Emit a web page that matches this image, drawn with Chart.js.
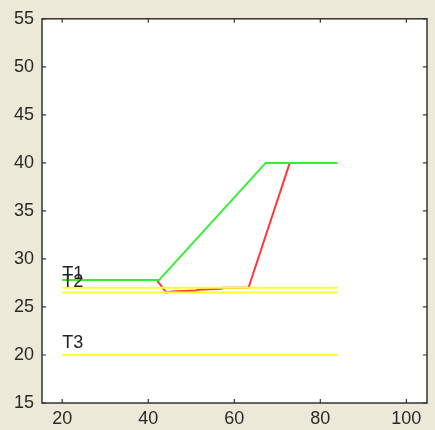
<!DOCTYPE html>
<html>
<head>
<meta charset="utf-8">
<script src="https://cdn.jsdelivr.net/npm/chart.js@4/dist/chart.umd.min.js"></script>
<style>
html,body{margin:0;padding:0;background:#ECE9D8;}
#wrap{position:absolute;left:0;top:0;width:435px;height:430px;}
</style>
</head>
<body>
<div id="wrap"><canvas id="c" width="435" height="430"></canvas></div>
<script>
// ----- data -----
const xTickValues = [20, 40, 60, 80, 100];
const yTickValues = [15, 20, 25, 30, 35, 40, 45, 50, 55];

const greenX = [20, 42.5, 67.3, 84];
const greenY = [27.8, 27.8, 40, 40];

const redX = [42, 44.2, 45.5, 51.2, 51.4, 57.0, 57.3, 63.3, 72.9];
const redY = [27.8, 26.5, 26.6, 26.7, 26.8, 26.9, 27.0, 27.0, 40];

const yellowX = [20, 84];
const yellow1Y = [27.0, 27.0];
const yellow2Y = [26.5, 26.5];
const yellow3Y = [20, 20];

const labelTexts = ['T1', 'T2', 'T3'];
const labelX = [20, 20, 20];
const labelY = [28.4, 27.6, 21.2];

function pts(xs, ys){ return xs.map((x,i)=>({x:x, y:ys[i]})); }

const FAMILY = '"Liberation Sans", Arial, sans-serif';
const FONT = '18px ' + FAMILY;

const framePlugin = {
  id: 'frame',
  beforeDraw(chart){
    const {ctx, chartArea:a} = chart;
    ctx.save();
    ctx.fillStyle = '#ECE9D8';
    ctx.fillRect(0,0,chart.width,chart.height);
    ctx.fillStyle = '#ffffff';
    ctx.fillRect(a.left, a.top, a.right-a.left, a.bottom-a.top);
    ctx.restore();
  },
  afterDatasetsDraw(chart){
    const {ctx, chartArea:a, scales} = chart;
    ctx.save();
    // labels
    ctx.font = FONT;
    ctx.fillStyle = '#222';
    ctx.textAlign = 'left';
    ctx.textBaseline = 'middle';
    labelTexts.forEach((t,i)=>{
      ctx.fillText(t, scales.x.getPixelForValue(labelX[i]), scales.y.getPixelForValue(labelY[i]));
    });
    // box
    ctx.strokeStyle = '#333';
    ctx.lineWidth = 1.5;
    ctx.strokeRect(a.left, a.top, a.right-a.left, a.bottom-a.top);
    // inward ticks
    ctx.lineWidth = 1.2;
    const L = 4;
    scales.x.ticks.forEach(t=>{
      const px = scales.x.getPixelForValue(t.value);
      ctx.beginPath();
      ctx.moveTo(px, a.bottom); ctx.lineTo(px, a.bottom-L);
      ctx.moveTo(px, a.top); ctx.lineTo(px, a.top+L);
      ctx.stroke();
    });
    scales.y.ticks.forEach(t=>{
      const py = scales.y.getPixelForValue(t.value);
      ctx.beginPath();
      ctx.moveTo(a.left, py); ctx.lineTo(a.left+L, py);
      ctx.moveTo(a.right, py); ctx.lineTo(a.right-L, py);
      ctx.stroke();
    });
    ctx.restore();
  }
};

const lineDs = (data, color) => ({
  data, borderColor: color, borderWidth: 2, pointRadius: 0, fill: false, tension: 0
});

new Chart(document.getElementById('c'), {
  type: 'line',
  data: {
    datasets: [
      lineDs(pts(yellowX, yellow3Y), '#FFFF30'),
      lineDs(pts(yellowX, yellow2Y), '#FFFF30'),
      lineDs(pts(yellowX, yellow1Y), '#FFFF30'),
      lineDs(pts(greenX, greenY), '#30F030'),
      lineDs(pts(redX, redY), '#FF3838')
    ]
  },
  options: {
    responsive: false,
    animation: false,
    events: [],
    layout: { padding: { top: 15, right: 8, left: 0, bottom: 0 } },
    plugins: { legend: { display: false }, tooltip: { enabled: false } },
    scales: {
      x: {
        type: 'linear', min: 15.3, max: 104.8,
        afterBuildTicks: s => { s.ticks = xTickValues.map(v=>({value:v})); },
        afterFit: s => { s.height = 27; },
        grid: { display: false, drawTicks: false },
        border: { display: false },
        ticks: { font: { family: FAMILY, size: 18 }, color: '#2a2a2a', padding: 5, maxRotation: 0, autoSkip: false }
      },
      y: {
        type: 'linear', min: 15, max: 55,
        afterBuildTicks: s => { s.ticks = yTickValues.map(v=>({value:v})); },
        afterFit: s => { s.width = 42; },
        grid: { display: false, drawTicks: false },
        border: { display: false },
        ticks: { font: { family: FAMILY, size: 18 }, color: '#2a2a2a', padding: 8, autoSkip: false }
      }
    }
  },
  plugins: [framePlugin]
});
</script>
</body>
</html>
